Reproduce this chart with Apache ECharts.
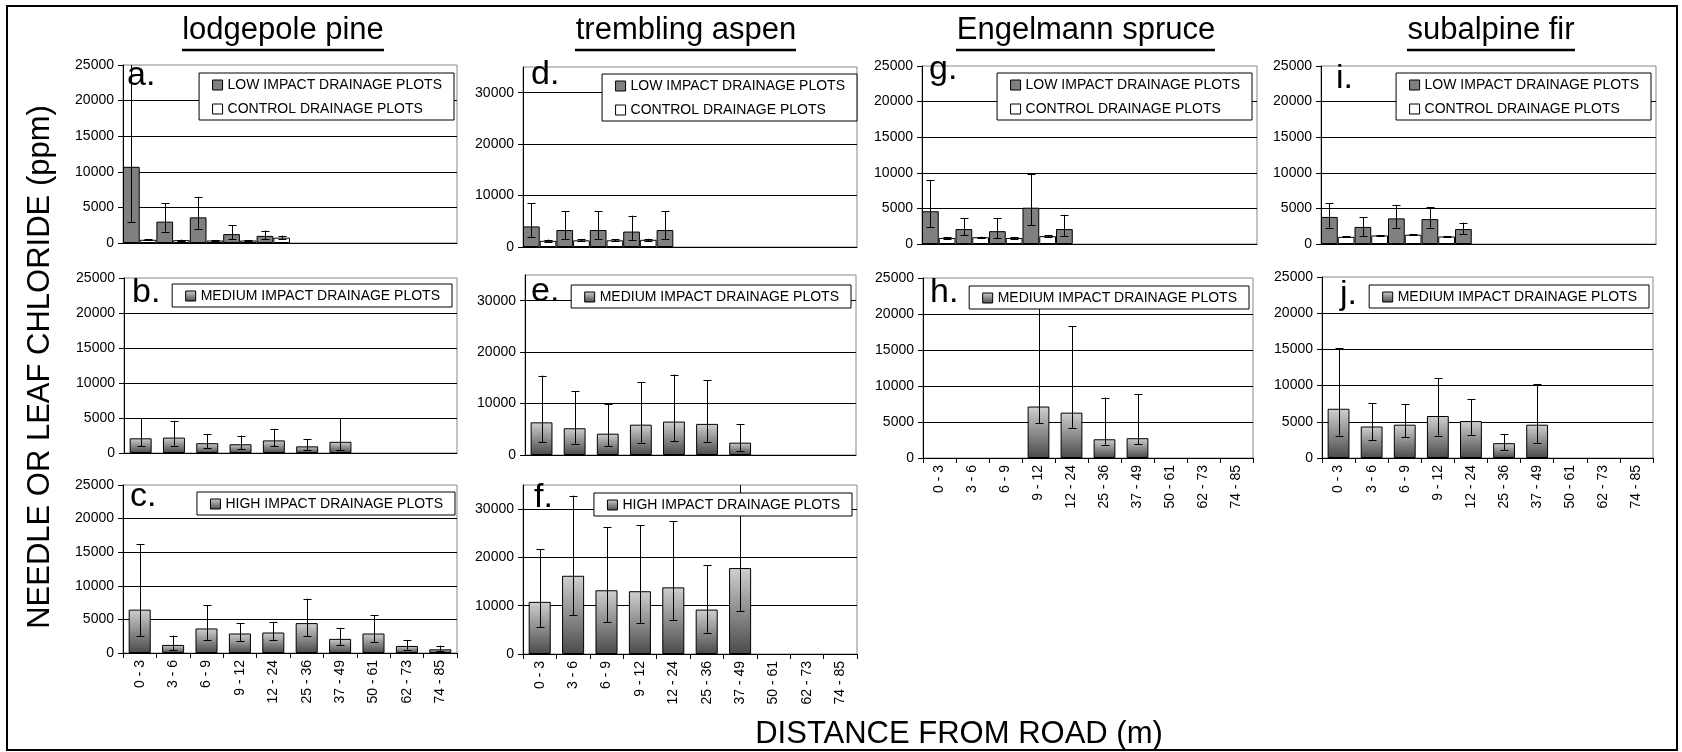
<!DOCTYPE html>
<html><head><meta charset="utf-8">
<script src="https://cdn.jsdelivr.net/npm/echarts@6/dist/echarts.min.js"></script>
<style>html,body{margin:0;padding:0;background:#fff}#c{width:1682px;height:752px}</style>
</head><body><div id="c"></div>
<script>
// ---------------- DATA ----------------
const categories = ['0 - 3','3 - 6','6 - 9','9 - 12','12 - 24','25 - 36','37 - 49','50 - 61','62 - 73','74 - 85'];
const speciesTitles = ['lodgepole pine','trembling aspen','Engelmann spruce','subalpine fir'];
const panelLetters = ['a.','b.','c.','d.','e.','f.','g.','h.','i.','j.'];
const nameLow = 'LOW IMPACT DRAINAGE PLOTS';
const nameCtrl = 'CONTROL DRAINAGE PLOTS';
const nameMed = 'MEDIUM IMPACT DRAINAGE PLOTS';
const nameHigh = 'HIGH IMPACT DRAINAGE PLOTS';
const yMaxSmall = 25000, yStepSmall = 5000;
const yMaxLarge = 35000, yStepLarge = 10000;
const yAxisTitle = 'NEEDLE OR LEAF CHLORIDE (ppm)';
const xAxisTitle = 'DISTANCE FROM ROAD (m)';

// a. lodgepole pine – low impact vs control
const aLow    = [10700, 3000, 3600, 1250, 1000, null, null, null, null, null];
const aLowLo  = [2900, 1600, 2000, 600, 500, null, null, null, null, null];
const aLowHi  = [28000, 5600, 6500, 2500, 1750, null, null, null, null, null];
const aCtrl   = [450, 400, 350, 350, 750, null, null, null, null, null];
const aCtrlLo = [380, 330, 290, 290, 500, null, null, null, null, null];
const aCtrlHi = [520, 470, 410, 410, 1050, null, null, null, null, null];
// b. lodgepole pine – medium impact
const bMed    = [2100, 2200, 1400, 1250, 1800, 950, 1600, null, null, null];
const bMedLo  = [1000, 1050, 650, 550, 950, 450, 400, null, null, null];
const bMedHi  = [4950, 4600, 2700, 2500, 3450, 1950, 5000, null, null, null];
// c. lodgepole pine – high impact
const cHigh   = [6450, 1200, 3650, 2900, 3050, 4450, 2100, 2900, 1050, 550];
const cHighLo = [2500, 450, 1950, 1800, 1950, 2500, 1200, 1600, 500, 250];
const cHighHi = [16200, 2600, 7100, 4450, 4650, 8100, 3750, 5650, 1950, 1100];
// d. trembling aspen – low impact vs control
const dLow    = [4000, 3300, 3300, 3000, 3300, null, null, null, null, null];
const dLowLo  = [1900, 1500, 1500, 1400, 1500, null, null, null, null, null];
const dLowHi  = [8500, 7000, 7000, 6100, 7000, null, null, null, null, null];
const dCtrl   = [1200, 1300, 1300, 1400, null, null, null, null, null, null];
const dCtrlLo = [1000, 1100, 1100, 1200, null, null, null, null, null, null];
const dCtrlHi = [1450, 1500, 1500, 1600, null, null, null, null, null, null];
// e. trembling aspen – medium impact
const eMed    = [6350, 5200, 4150, 5900, 6500, 6050, 2400, null, null, null];
const eMedLo  = [2500, 2200, 1700, 2400, 2700, 2500, 850, null, null, null];
const eMedHi  = [15450, 12400, 9900, 14200, 15650, 14500, 6050, null, null, null];
// f. trembling aspen – high impact
const fHigh   = [10800, 16200, 13200, 13000, 13800, 9200, 17800, null, null, null];
const fHighLo = [5500, 8000, 6600, 6400, 7000, 4400, 8900, null, null, null];
const fHighHi = [21700, 32800, 26300, 26700, 27500, 18400, 35200, null, null, null];
// g. Engelmann spruce – low impact vs control
const gLow    = [4600, 2100, 1800, 5100, 2100, null, null, null, null, null];
const gLowLo  = [2400, 1200, 800, 2600, 1100, null, null, null, null, null];
const gLowHi  = [9000, 3600, 3600, 9900, 4100, null, null, null, null, null];
const gCtrl   = [850, 950, 850, 1100, null, null, null, null, null, null];
const gCtrlLo = [750, 850, 750, 1000, null, null, null, null, null, null];
const gCtrlHi = [950, 1050, 950, 1200, null, null, null, null, null, null];
// h. Engelmann spruce – medium impact
const hMed    = [null, null, null, 7150, 6300, 2600, 2750, null, null, null];
const hMedLo  = [null, null, null, 4850, 4200, 1850, 1950, null, null, null];
const hMedHi  = [null, null, null, 21500, 18300, 8400, 8850, null, null, null];
// i. subalpine fir – low impact vs control
const iLow    = [3800, 2400, 3600, 3500, 2100, null, null, null, null, null];
const iLowLo  = [2300, 1100, 2300, 2300, 1400, null, null, null, null, null];
const iLowHi  = [5700, 3800, 5500, 5200, 3000, null, null, null, null, null];
const iCtrl   = [1000, 1200, 1300, 1050, null, null, null, null, null, null];
const iCtrlLo = [920, 1120, 1220, 970, null, null, null, null, null, null];
const iCtrlHi = [1080, 1280, 1380, 1130, null, null, null, null, null, null];
// j. subalpine fir – medium impact
const jMed    = [6800, 4350, 4600, 5800, 5100, 2050, 4600, null, null, null];
const jMedLo  = [3100, 2500, 2850, 3100, 3200, 1100, 2050, null, null, null];
const jMedHi  = [15200, 7600, 7450, 11050, 8150, 3300, 10200, null, null, null];

// ---------------- LAYOUT / STYLE ----------------
const FONT = "'Liberation Sans', Arial, Helvetica, sans-serif";
const W = 1682;
const panels = [
  {letter:0, grid:[123,65,334,178],  ymax:yMaxSmall, step:yStepSmall, xlab:false, type:'pair', low:[aLow,aLowLo,aLowHi], ctrl:[aCtrl,aCtrlLo,aCtrlHi], leg:[454,73], lp:[127,93]},
  {letter:1, grid:[124,278,333,175], ymax:yMaxSmall, step:yStepSmall, xlab:false, type:'med', s:[bMed,bMedLo,bMedHi], name:nameMed, leg:[452,284], lp:[132,310]},
  {letter:2, grid:[123,485,334,168], ymax:yMaxSmall, step:yStepSmall, xlab:true, type:'med', s:[cHigh,cHighLo,cHighHi], name:nameHigh, leg:[455,492], lp:[130,514]},
  {letter:3, grid:[523,67,334,180],  ymax:yMaxLarge, step:yStepLarge, xlab:false, type:'pair', low:[dLow,dLowLo,dLowHi], ctrl:[dCtrl,dCtrlLo,dCtrlHi], leg:[857,74], lp:[531,92]},
  {letter:4, grid:[525,275,331,180], ymax:yMaxLarge, step:yStepLarge, xlab:false, type:'med', s:[eMed,eMedLo,eMedHi], name:nameMed, leg:[851,285], lp:[531,309]},
  {letter:5, grid:[523,485,334,169], ymax:yMaxLarge, step:yStepLarge, xlab:true, type:'med', s:[fHigh,fHighLo,fHighHi], name:nameHigh, leg:[852,493], lp:[534,515]},
  {letter:6, grid:[922,66,335,178],  ymax:yMaxSmall, step:yStepSmall, xlab:false, type:'pair', low:[gLow,gLowLo,gLowHi], ctrl:[gCtrl,gCtrlLo,gCtrlHi], leg:[1252,73], lp:[929,87]},
  {letter:7, grid:[923,278,330,180], ymax:yMaxSmall, step:yStepSmall, xlab:true, type:'med', s:[hMed,hMedLo,hMedHi], name:nameMed, leg:[1249,286], lp:[930,310]},
  {letter:8, grid:[1321,66,335,178], ymax:yMaxSmall, step:yStepSmall, xlab:false, type:'pair', low:[iLow,iLowLo,iLowHi], ctrl:[iCtrl,iCtrlLo,iCtrlHi], leg:[1651,73], lp:[1336,96]},
  {letter:9, grid:[1322,277,331,181], ymax:yMaxSmall, step:yStepSmall, xlab:true, type:'med', s:[jMed,jMedLo,jMedHi], name:nameMed, leg:[1649,285], lp:[1340,312]}
];

const lowStyle  = {color:'#808080', borderColor:'#000', borderWidth:1};
const ctrlStyle = {color:'#ffffff', borderColor:'#000', borderWidth:1};
const gradStyle = {color: new echarts.graphic.LinearGradient(0,0,0,1,[{offset:0,color:'#d0d0d0'},{offset:1,color:'#4a4a4a'}]), borderColor:'#000', borderWidth:1};

function errData(lo, hi) {
  const out = [];
  for (let i = 0; i < categories.length; i++) {
    if (lo[i] != null && hi[i] != null) out.push([i, lo[i], hi[i]]);
  }
  return out;
}
function errRender(offsetFrac, axisMax) {
  return function (params, api) {
    const x = api.value(0), lo = api.value(1), hi = api.value(2);
    const band = api.size([1, 0])[0];
    const pLo = api.coord([x, lo]);
    const pHi = api.coord([x, Math.min(hi, axisMax)]);
    const cx = Math.round(pLo[0] + offsetFrac * band) + 0.5;
    const hw = 4;
    const st = {stroke:'#000', lineWidth:1};
    const ch = [
      {type:'line', shape:{x1:cx, y1:pLo[1], x2:cx, y2:pHi[1]}, style:st},
      {type:'line', shape:{x1:cx-hw, y1:Math.round(pLo[1])+0.5, x2:cx+hw, y2:Math.round(pLo[1])+0.5}, style:st}
    ];
    if (hi <= axisMax) ch.push({type:'line', shape:{x1:cx-hw, y1:Math.round(pHi[1])+0.5, x2:cx+hw, y2:Math.round(pHi[1])+0.5}, style:st});
    return {type:'group', children: ch};
  };
}

const grids = [], xAxes = [], yAxes = [], series = [], legends = [], graphics = [];
panels.forEach((p, k) => {
  const [gl, gt, gw, gh] = p.grid;
  grids.push({left:gl, top:gt, width:gw, height:gh, show:true, borderColor:'#888', borderWidth:1, backgroundColor:'#fff', containLabel:false});
  xAxes.push({gridIndex:k, type:'category', data:categories,
    axisLine:{show:true, lineStyle:{color:'#000', width:1}},
    axisTick:{show:p.xlab, length:5, lineStyle:{color:'#000'}},
    axisLabel:{show:p.xlab, rotate:90, fontSize:14, color:'#000', fontFamily:FONT, margin:7, interval:0},
    splitLine:{show:false}});
  yAxes.push({gridIndex:k, type:'value', min:0, max:p.ymax, interval:p.step,
    axisLine:{show:true, lineStyle:{color:'#000', width:1}},
    axisTick:{show:true, length:5, lineStyle:{color:'#000'}},
    axisLabel:{fontSize:14, color:'#000', fontFamily:FONT, margin:9, showMaxLabel: p.ymax % p.step === 0, formatter: v => String(v)},
    splitLine:{show:true, showMaxLine:false, showMinLine:false, lineStyle:{color:'#000', width:1}}});
  let legendNames;
  if (p.type === 'pair') {
    series.push({type:'bar', name:nameLow, xAxisIndex:k, yAxisIndex:k, data:p.low[0], itemStyle:lowStyle, barGap:'0%', barCategoryGap:'0%', z:2});
    series.push({type:'bar', name:nameCtrl, xAxisIndex:k, yAxisIndex:k, data:p.ctrl[0], itemStyle:ctrlStyle, barGap:'0%', barCategoryGap:'0%', z:2});
    series.push({type:'custom', name:'err-low-'+k, xAxisIndex:k, yAxisIndex:k, data:errData(p.low[1], p.low[2]), renderItem:errRender(-0.25, p.ymax), encode:{x:0, y:[1,2]}, z:3, silent:true});
    series.push({type:'custom', name:'err-ctrl-'+k, xAxisIndex:k, yAxisIndex:k, data:errData(p.ctrl[1], p.ctrl[2]), renderItem:errRender(0.25, p.ymax), encode:{x:0, y:[1,2]}, z:3, silent:true});
    legendNames = [nameLow, nameCtrl];
  } else {
    series.push({type:'bar', name:p.name, xAxisIndex:k, yAxisIndex:k, data:p.s[0], itemStyle:gradStyle, barCategoryGap:'34%', z:2});
    series.push({type:'custom', name:'err-'+k, xAxisIndex:k, yAxisIndex:k, data:errData(p.s[1], p.s[2]), renderItem:errRender(0, p.ymax), encode:{x:0, y:[1,2]}, z:3, silent:true});
    legendNames = [p.name];
  }
  legends.push({data:legendNames, orient:'vertical', right: W - p.leg[0], top: p.leg[1],
    itemWidth:10, itemHeight:10, itemGap:10, padding:[5,12,4,13],
    borderColor:'#000', borderWidth:1, backgroundColor:'#fff', selectedMode:false,
    icon:'rect', itemStyle:{borderColor:'#000', borderWidth:1},
    textStyle:{fontSize:14, color:'#000', fontFamily:FONT}, z:10});
  graphics.push({type:'text', x:p.lp[0], y:p.lp[1], z:20,
    style:{text:panelLetters[p.letter], font:'34px '+FONT, fill:'#000', textVerticalAlign:'bottom', verticalAlign:'bottom'}});
});

// titles with underline
const titleCenters = [283, 686, 1086, 1491];
const titleSpans = [[182,384],[575,796],[956,1215],[1407,1575]];
speciesTitles.forEach((t, i) => {
  graphics.push({type:'text', x:titleCenters[i], y:46, style:{text:t, font:'31px '+FONT, fill:'#000', align:'center', verticalAlign:'bottom'}});
  graphics.push({type:'line', shape:{x1:titleSpans[i][0], y1:50, x2:titleSpans[i][1], y2:50}, style:{stroke:'#000', lineWidth:2.5}});
});
graphics.push({type:'text', x:40, y:367, rotation:Math.PI/2, style:{text:yAxisTitle, font:'31px '+FONT, fill:'#000', align:'center', verticalAlign:'middle'}});
graphics.push({type:'text', x:959, y:734, style:{text:xAxisTitle, font:'31px '+FONT, fill:'#000', align:'center', verticalAlign:'middle'}});
graphics.push({type:'rect', shape:{x:7, y:6, width:1670, height:744}, style:{fill:null, stroke:'#000', lineWidth:2}, z:-1});

const chart = echarts.init(document.getElementById('c'), null, {renderer:'canvas'});
chart.setOption({
  animation:false,
  backgroundColor:'#fff',
  grid:grids, xAxis:xAxes, yAxis:yAxes, series:series, legend:legends,
  graphic:{elements:graphics}
});
</script></body></html>
